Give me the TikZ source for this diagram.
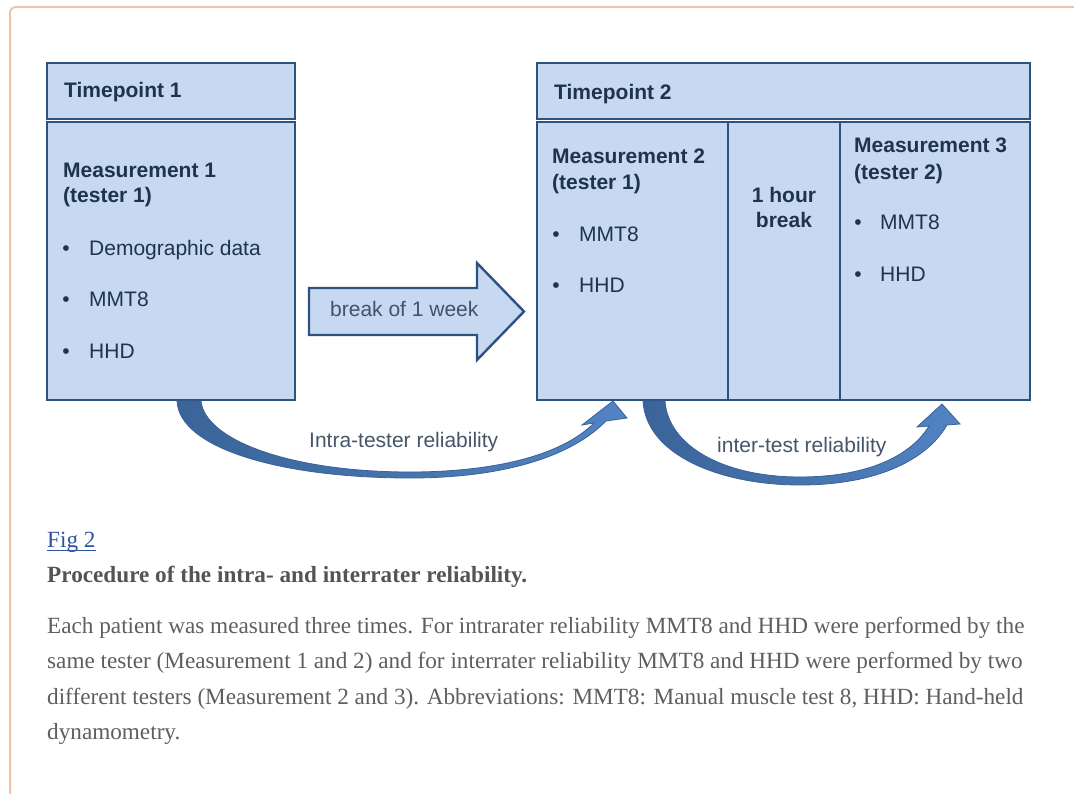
\documentclass[tikz,border=0pt]{standalone}
\usepackage{fontspec}
\setmainfont{Liberation Serif}
\newfontfamily\arialfont{Liberation Sans}
\usepackage{tikz}
\usetikzlibrary{positioning, calc}
\definecolor{boxFill}{HTML}{C6D9F0}
\definecolor{boxLine}{HTML}{2E5180}
\definecolor{boxText}{HTML}{1F3350}
\definecolor{bendDark}{HTML}{3A6499}
\definecolor{bendLight}{HTML}{5283C3}
\definecolor{bendLine}{HTML}{3A6398}
\definecolor{tagGrey}{HTML}{45556A}
\definecolor{frameRose}{HTML}{EEC4A8}
\definecolor{linkBlue}{HTML}{3152A0}
\definecolor{capGrey}{HTML}{545454}
\definecolor{textGrey}{HTML}{5E5E5E}
\tikzset{
    panel/.style={draw=boxLine, fill=boxFill, line width=2.4pt, anchor=north west, inner sep=0pt, outer sep=0pt},
    head/.style={font=\arialfont\bfseries\fontsize{21}{26}\selectfont, text=boxText, anchor=base west, inner sep=0pt},
    item/.style={font=\arialfont\fontsize{21}{26}\selectfont, text=boxText, anchor=base west, inner sep=0pt},
    dot/.style={font=\arialfont\fontsize{21}{26}\selectfont, text=boxText, anchor=base, inner sep=0pt},
    tag/.style={font=\arialfont\fontsize{21}{26}\selectfont, text=tagGrey, anchor=base west, inner sep=0pt},
    bendband/.style={left color=bendDark, right color=bendLight, draw=bendLine, line width=0.8pt},
    para/.style={font=\fontsize{23.2}{35.5}\selectfont, text=textGrey, anchor=base west, inner sep=0pt}
}
\begin{document}
\begin{tikzpicture}[x=1pt, y=-1pt]
    \useasboundingbox (0,0) rectangle (1074,794);
    % page frame
    \draw[frameRose, line width=2pt, rounded corners=6pt] (10,794) -- (10,7) -- (1074,7);

    % Timepoint 1
    \node[panel, minimum width=248, minimum height=56] (tp1) at (47,63) {};
    \node[panel, minimum width=248, minimum height=278] (m1) at (47,122) {};
    \node[head] (tp1t) at (64,98) {Timepoint 1};
    \node[head] (m1a) at (63,178) {Measurement 1};
    \node[head] (m1b) at (63,203) {(tester 1)};
    \foreach \txt/\y [count=\i] in {Demographic data/256, MMT8/307, HHD/359} {
        \node[dot] (d1\i) at (66,\y) {\textbullet};
        \node[item] (i1\i) at (89,\y) {\txt};
    }

    % break arrow
    \draw[draw=boxLine, fill=boxFill, line width=2.4pt, line join=miter]
        (309,288) -- (477,288) -- (477,263) -- (524,311.5) -- (477,360) -- (477,335) -- (309,335) -- cycle;
    \node[item, text=boxText!85!white] (wk) at (330,317) {break of 1 week};

    % Timepoint 2
    \node[panel, minimum width=493, minimum height=56] (tp2) at (537,63) {};
    \node[panel, minimum width=191, minimum height=278] (m2) at (537,122) {};
    \node[panel, minimum width=112, minimum height=278] (hb) at (m2.north east) {};
    \node[panel, minimum width=190, minimum height=278] (m3) at (hb.north east) {};
    \node[head] (tp2t) at (554,100) {Timepoint 2};
    \node[head] (m2a) at (552,164) {Measurement 2};
    \node[head] (m2b) at (552,190) {(tester 1)};
    \foreach \txt/\y [count=\i] in {MMT8/242, HHD/293} {
        \node[dot] (d2\i) at (556,\y) {\textbullet};
        \node[item] (i2\i) at (579,\y) {\txt};
    }
    \node[head, anchor=base] (hb1) at (784,203) {1 hour};
    \node[head, anchor=base] (hb2) at (784,228) {break};
    \node[head] (m3a) at (854,153) {Measurement 3};
    \node[head] (m3b) at (854,180) {(tester 2)};
    \foreach \txt/\y [count=\i] in {MMT8/230, HHD/282} {
        \node[dot] (d3\i) at (858,\y) {\textbullet};
        \node[item] (i3\i) at (880,\y) {\txt};
    }

    % curved arrows
    \shade[bendband] (177,401) .. controls (179,448) and (280,478) .. (410,478)
        .. controls (500,478) and (570,458) .. (606,421) -- (627,418) -- (613,401) -- (582,425) -- (594,423)
        .. controls (560,457) and (490,472) .. (410,472) .. controls (290,472) and (205,440) .. (201,401) -- cycle;
    \node[tag] (intra) at (309,447) {Intra-tester reliability};

    \shade[bendband] (643,401) .. controls (646,455) and (720,485) .. (800,485)
        .. controls (880,485) and (928,458) .. (947,425) -- (960,424) -- (942,404) -- (917,427) -- (929,426)
        .. controls (908,460) and (860,477) .. (800,477) .. controls (722,477) and (668,445) .. (665,401) -- cycle;
    \node[tag] (inter) at (717,452) {inter-test reliability};

    % caption
    \node[para, text=linkBlue] (fig) at (47,547) {Fig 2};
    \draw[linkBlue, line width=1.3pt] ([yshift=-3.5pt]fig.base west) -- ([yshift=-3.5pt]fig.base east);
    \node[para, text=capGrey, font=\bfseries\fontsize{23.2}{35.5}\selectfont] (ttl) at (47,582) {Procedure of the intra- and interrater reliability.};
    \foreach \y/\txt [count=\i] in {
        633/{Each patient was measured three times. For intrarater reliability MMT8 and HHD were performed by the},
        668/{same tester (Measurement 1 and 2) and for interrater reliability MMT8 and HHD were performed by two},
        704/{different testers (Measurement 2 and 3). Abbreviations: MMT8: Manual muscle test 8, HHD: Hand-held},
        739/{dynamometry.}} {
        \node[para] (ln\i) at (47,\y) {\txt};
    }
\end{tikzpicture}
\end{document}
